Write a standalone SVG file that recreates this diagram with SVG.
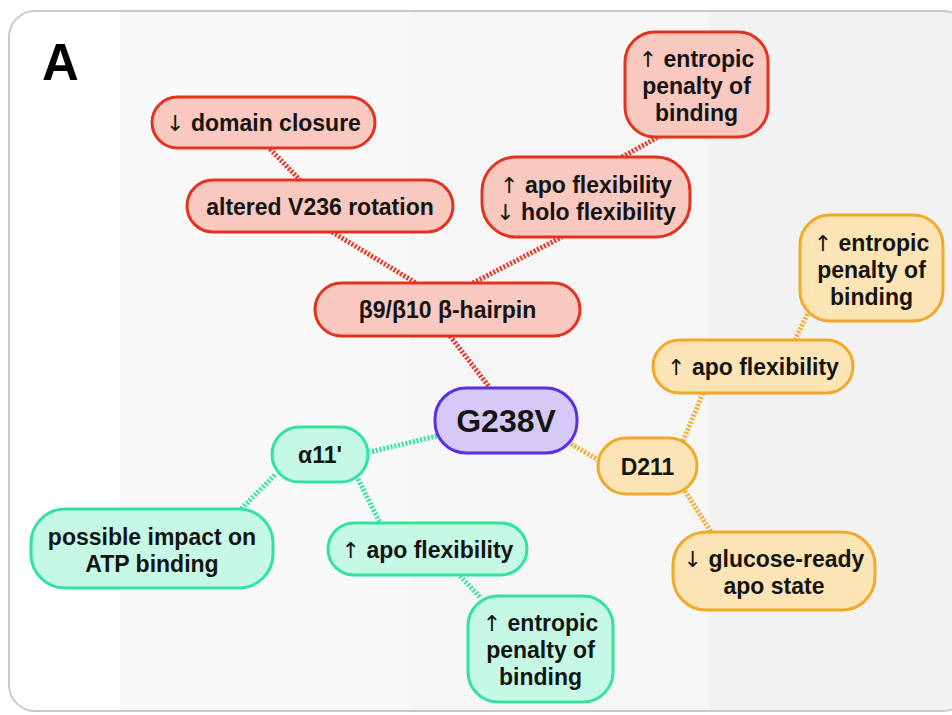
<svg xmlns="http://www.w3.org/2000/svg" width="952" height="715" viewBox="0 0 952 715">
  <defs>
    <clipPath id="panel-clip">
      <rect x="9" y="11" width="960" height="700" rx="26"/>
    </clipPath>
  </defs>
  <style>
    .lbl { font-family: "Liberation Sans", Arial, sans-serif; font-weight: bold; font-size: 23px; fill: #141414; text-anchor: middle; }
    .big { font-size: 32px; }
    .arr { font-family: "DejaVu Sans", sans-serif; font-weight: normal; font-size: 22px; fill: #141414; }
    .red rect { fill: #f9c8bf; stroke: #e5321f; stroke-width: 3; }
    .grn rect { fill: #c6f8e6; stroke: #32e3a0; stroke-width: 3; }
    .org rect { fill: #fde4b4; stroke: #f0a928; stroke-width: 3; }
    .pur rect { fill: #d6c9f8; stroke: #5a2fe4; stroke-width: 3; }
    .link { fill: none; stroke-width: 5; stroke-dasharray: 2.2 1.6; }
    .link.r { stroke: #e0402f; }
    .link.g { stroke: #45e2a8; }
    .link.o { stroke: #efb13c; }
  </style>

  <!-- panel background with soft vertical bands -->
  <g id="panel">
    <rect width="952" height="715" fill="#ffffff"/>
    <g clip-path="url(#panel-clip)">
      <rect x="9" y="11" width="111" height="700" fill="#ffffff"/>
      <rect x="120" y="11" width="291" height="700" fill="#f9f9f9"/>
      <rect x="411" y="11" width="298" height="700" fill="#f6f6f6"/>
      <rect x="709" y="11" width="260" height="700" fill="#f2f2f2"/>
    </g>
    <rect x="9" y="11" width="960" height="700" rx="26" fill="none" stroke="#c9c9c9" stroke-width="2"/>
    <text x="42" y="80" font-family="Liberation Sans, Arial, sans-serif" font-weight="bold" font-size="51" fill="#000">A</text>
  </g>

  <!-- connectors -->
  <g id="connectors">
    <line class="link r" x1="270" y1="149" x2="300" y2="180"/>
    <line class="link r" x1="332" y1="232" x2="416" y2="283"/>
    <line class="link r" x1="473" y1="283" x2="562" y2="237"/>
    <line class="link r" x1="622" y1="157" x2="660" y2="136"/>
    <line class="link r" x1="450" y1="336" x2="490" y2="388"/>
    <line class="link g" x1="437" y1="436" x2="370" y2="452"/>
    <line class="link g" x1="275" y1="475" x2="240" y2="510"/>
    <line class="link g" x1="358" y1="479" x2="380" y2="523"/>
    <line class="link g" x1="460" y1="576" x2="480" y2="597"/>
    <line class="link o" x1="571" y1="444" x2="600" y2="461"/>
    <line class="link o" x1="683" y1="441" x2="703" y2="393"/>
    <line class="link o" x1="795" y1="340" x2="808" y2="313"/>
    <line class="link o" x1="685" y1="491" x2="711" y2="532"/>
  </g>

  <!-- red branch -->
  <g id="domain-closure" class="red">
    <rect x="152" y="97" width="223" height="51" rx="25.5"/>
    <text class="lbl" x="263.5" y="131"><tspan class="arr">↓</tspan> domain closure</text>
  </g>
  <g id="v236-rotation" class="red">
    <rect x="187" y="180" width="266" height="52" rx="26"/>
    <text class="lbl" x="320" y="214.5">altered V236 rotation</text>
  </g>
  <g id="red-entropic" class="red">
    <rect x="625" y="32" width="143" height="105" rx="30"/>
    <text class="lbl" x="696.5" y="66.5"><tspan class="arr">↑</tspan> entropic<tspan x="696.5" y="93.5">penalty of</tspan><tspan x="696.5" y="120.5">binding</tspan></text>
  </g>
  <g id="apo-holo-flexibility" class="red">
    <rect x="482" y="157" width="208" height="80" rx="34"/>
    <text class="lbl" x="586" y="193"><tspan class="arr">↑</tspan> apo flexibility<tspan x="586" y="220"><tspan class="arr">↓</tspan> holo flexibility</tspan></text>
  </g>
  <g id="hairpin" class="red">
    <rect x="315" y="283" width="265" height="53" rx="26.5"/>
    <text class="lbl" x="447.5" y="318">β9/β10 β-hairpin</text>
  </g>

  <!-- central mutation -->
  <g id="g238v" class="pur">
    <rect x="435" y="388" width="142" height="65" rx="31"/>
    <text class="lbl big" x="506" y="432">G238V</text>
  </g>

  <!-- green branch -->
  <g id="alpha11" class="grn">
    <rect x="272" y="427" width="96" height="55" rx="27.5"/>
    <text class="lbl" x="320" y="463">α11'</text>
  </g>
  <g id="atp-binding" class="grn">
    <rect x="31" y="509" width="242" height="79" rx="34"/>
    <text class="lbl" x="152" y="545">possible impact on<tspan x="152" y="572">ATP binding</tspan></text>
  </g>
  <g id="green-apo" class="grn">
    <rect x="328" y="523" width="199" height="52" rx="26"/>
    <text class="lbl" x="427.5" y="557.5"><tspan class="arr">↑</tspan> apo flexibility</text>
  </g>
  <g id="green-entropic" class="grn">
    <rect x="468" y="596" width="145" height="106" rx="30"/>
    <text class="lbl" x="540.5" y="630.5"><tspan class="arr">↑</tspan> entropic<tspan x="540.5" y="657.5">penalty of</tspan><tspan x="540.5" y="684.5">binding</tspan></text>
  </g>

  <!-- orange branch -->
  <g id="d211" class="org">
    <rect x="598" y="438" width="99" height="56" rx="28"/>
    <text class="lbl" x="647.5" y="474.5">D211</text>
  </g>
  <g id="orange-apo" class="org">
    <rect x="653" y="340" width="200" height="53" rx="26.5"/>
    <text class="lbl" x="753" y="375"><tspan class="arr">↑</tspan> apo flexibility</text>
  </g>
  <g id="orange-entropic" class="org">
    <rect x="800" y="215" width="143" height="106" rx="30"/>
    <text class="lbl" x="871.5" y="250.5"><tspan class="arr">↑</tspan> entropic<tspan x="871.5" y="277.5">penalty of</tspan><tspan x="871.5" y="304.5">binding</tspan></text>
  </g>
  <g id="glucose-ready" class="org">
    <rect x="673" y="532" width="202" height="78" rx="33"/>
    <text class="lbl" x="774" y="566.5"><tspan class="arr">↓</tspan> glucose-ready<tspan x="774" y="593.5">apo state</tspan></text>
  </g>
</svg>
